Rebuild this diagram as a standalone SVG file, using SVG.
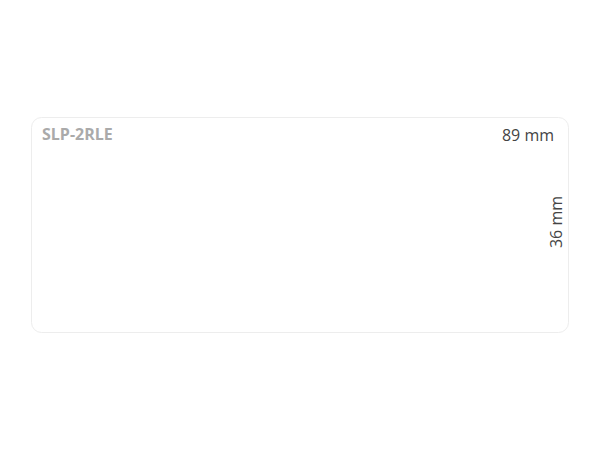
<svg xmlns="http://www.w3.org/2000/svg" width="600" height="450" viewBox="0 0 600 450">
<style>
.label{fill:#fff;stroke:#ededed;stroke-width:1}
.name{font-family:"Open Sans","Liberation Sans",sans-serif;font-weight:bold;font-size:16px;fill:#aaaaaa}
.dim{font-family:"Open Sans","Liberation Sans",sans-serif;font-size:16px;fill:#444444}
</style>
<rect width="600" height="450" fill="#ffffff"/>
<g id="label">
<rect class="label" x="31.5" y="117.5" width="537" height="215" rx="10" ry="10"/>
<text class="name" x="42" y="140">SLP-2RLE</text>
<text class="dim" x="554" y="141" text-anchor="end">89 mm</text>
<text class="dim" transform="translate(562,222) rotate(-90)" text-anchor="middle">36 mm</text>
</g>
</svg>
